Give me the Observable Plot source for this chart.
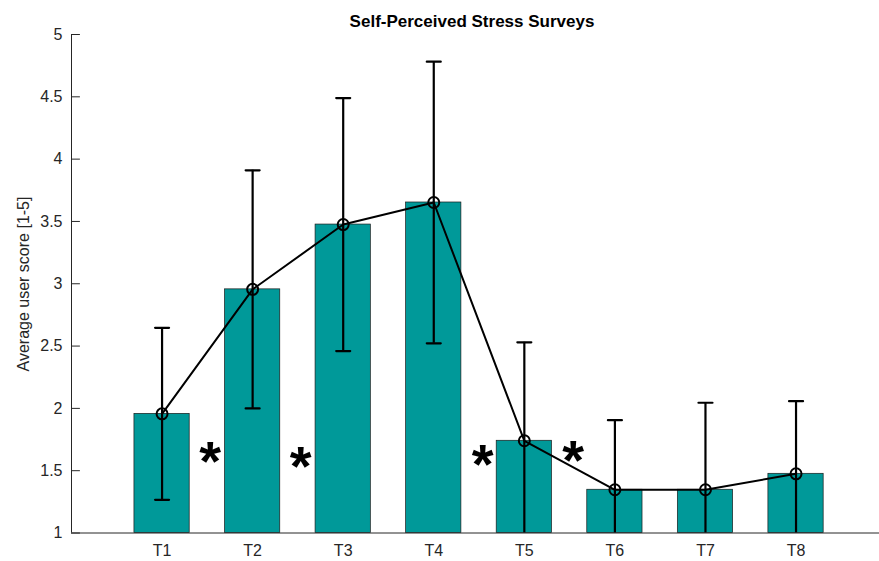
<!DOCTYPE html>
<html>
<head>
<meta charset="utf-8">
<script src="https://cdn.jsdelivr.net/npm/d3@7"></script>
<script src="https://cdn.jsdelivr.net/npm/@observablehq/plot@0.6"></script>
<style>
  html, body { margin: 0; padding: 0; background: #fff; }
  #wrap { position: relative; width: 879px; height: 561px; font-family: "Liberation Sans", Arial, sans-serif; }
  #wrap svg { position: absolute; left: 0; top: 0; }
  #title { position: absolute; left: 472px; top: 12.6px; transform: translateX(-50%); font-weight: bold; font-size: 17px; line-height: 17px; white-space: nowrap; color: #000; z-index: 2; }
  #ylabel { position: absolute; left: 24.3px; top: 284px; transform: translate(-50%, -50%) rotate(-90deg); font-size: 16px; line-height: 16px; white-space: nowrap; color: #262626; z-index: 2; }
</style>
</head>
<body>
<div id="wrap">
  <div id="title">Self-Perceived Stress Surveys</div>
  <div id="ylabel">Average user score [1-5]</div>
</div>
<script>
// ---- data ----
const categories = ["T1", "T2", "T3", "T4", "T5", "T6", "T7", "T8"];
const positions = [1, 2, 3, 4, 5, 6, 7, 8];
const means = [1.956, 2.955, 3.475, 3.652, 1.740, 1.347, 1.347, 1.475];
const errors = [0.690, 0.955, 1.015, 1.130, 0.790, 0.558, 0.698, 0.583];
const yTicks = [1, 1.5, 2, 2.5, 3, 3.5, 4, 4.5, 5];
const starX = [1.53, 2.53, 4.54, 5.54];
const starY = [1.63, 1.59, 1.61, 1.64];

// ---- derived table ----
const data = positions.map((x, i) => ({x, cat: categories[i], mean: means[i], lo: means[i] - errors[i], hi: means[i] + errors[i]}));
const stars = starX.map((x, i) => ({x, y: starY[i]}));

const barHalf = 0.305;
const lineShape = { draw(context, l) { context.moveTo(0, 0); context.lineTo(0, -l); } };
const axisColor = "#262626";

const chart = Plot.plot({
  width: 879,
  height: 561,
  marginLeft: 71,
  marginRight: 0,
  marginTop: 34,
  marginBottom: 28.5,
  style: { fontFamily: "'Liberation Sans', Arial, sans-serif", fontSize: "16px", color: axisColor, background: "transparent" },
  x: { domain: [0, 9], range: [71, 886.1] },
  y: { domain: [1, 5] },
  marks: [
    // bars
    Plot.rectY(data, { x1: d => d.x - barHalf, x2: d => d.x + barHalf, y1: 1, y2: "mean", fill: "#009999", stroke: "#1a1a1a", strokeWidth: 0.7 }),
    // error bars
    Plot.ruleX(data, { x: "x", y1: "lo", y2: "hi", stroke: "#000", strokeWidth: 2.2, clip: true }),
    Plot.vector(data, { x: "x", y: "hi", rotate: 90, length: 14, anchor: "middle", shape: lineShape, stroke: "#000", strokeWidth: 2.2, clip: true }),
    Plot.vector(data, { x: "x", y: "lo", rotate: 90, length: 14, anchor: "middle", shape: lineShape, stroke: "#000", strokeWidth: 2.2, clip: true }),
    // line + markers
    Plot.line(data, { x: "x", y: "mean", stroke: "#000", strokeWidth: 2 }),
    Plot.dot(data, { x: "x", y: "mean", r: 5.5, stroke: "#000", strokeWidth: 2, fill: "none" }),
    // significance stars
    Plot.text(stars, { x: "x", y: "y", text: () => "*", fontSize: 56, fontWeight: "bold", fill: "#000", dy: 8 }),
    // axes lines
    Plot.ruleX([0], { stroke: axisColor, strokeWidth: 1 }),
    Plot.ruleY([1], { stroke: axisColor, strokeWidth: 1 }),
    // inward y ticks
    Plot.vector(yTicks, { x: 0, y: d => d, rotate: 90, length: 8, anchor: "start", shape: lineShape, stroke: axisColor, strokeWidth: 1 }),
    Plot.axisY(yTicks, { tickSize: 0, tickPadding: 9, tickFormat: d => String(d), fontSize: 16, fill: axisColor, label: null }),
    Plot.axisX(positions, { tickSize: 0, tickPadding: 12, tickFormat: d => categories[positions.indexOf(d)], fontSize: 16, fill: axisColor, label: null })
  ]
});
document.getElementById("wrap").appendChild(chart);
</script>
</body>
</html>
